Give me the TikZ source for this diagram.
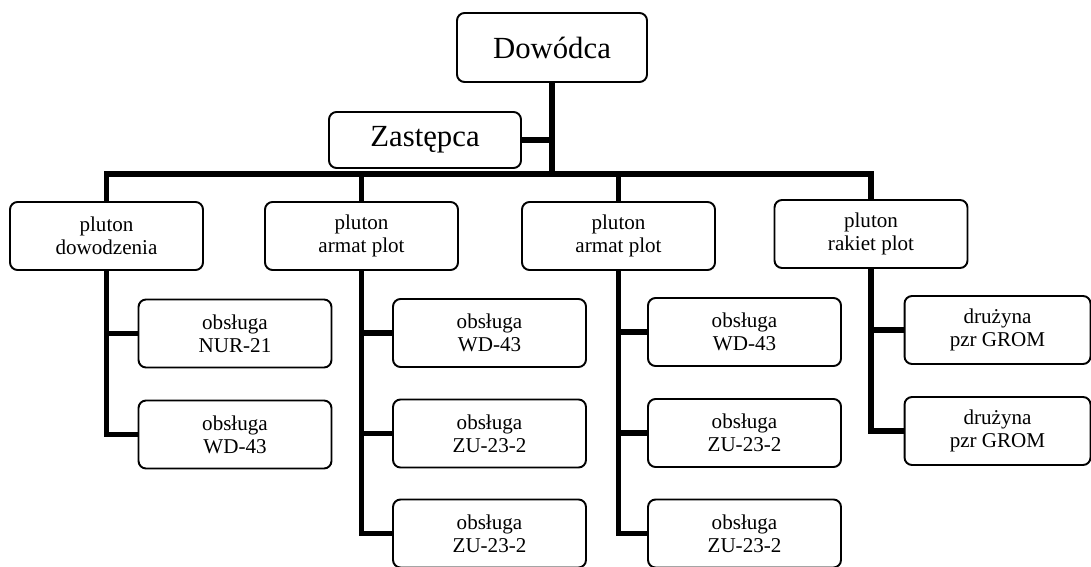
\documentclass[tikz,border=0pt]{standalone}
\usepackage{fontspec}
\setmainfont{Liberation Serif}
\usetikzlibrary{positioning, calc}

\begin{document}
\begin{tikzpicture}[x=0.02cm, y=-0.02cm,
    box/.style={draw, line width=1.1pt, rounded corners=0.15cm, align=center,
      minimum width=3.86cm, minimum height=1.36cm, inner sep=0pt,
      font=\fontsize{12}{13.2}\selectfont},
    bigbox/.style={box, font=\fontsize{17.5}{20}\selectfont},
    conn/.style={line width=3.4pt}]
    \useasboundingbox (0,0) rectangle (1091,567);

    % dowodca i zastepca
    \node[bigbox, minimum width=3.8cm, minimum height=1.38cm] (dow) at (552,47.5) {Dowódca};
    \node[bigbox, minimum width=3.84cm, minimum height=1.12cm] (zas) at (425,140) {Zastępca};
    \coordinate (bar) at (552,174);

    % plutony
    \node[box] (pd) at (106.5,236) {pluton\\dowodzenia};
    \node[box] (pa1) at (361.5,236) {pluton\\armat plot};
    \node[box] (pa2) at (618.5,236) {pluton\\armat plot};
    \node[box] (pr) at (871,234) {pluton\\rakiet plot};

    % obslugi
    \node[box] (d1) at (235,333.5) {obsługa\\NUR-21};
    \node[box] (d2) at (235,434.5) {obsługa\\WD-43};

    \node[box] (a11) at (489.5,333) {obsługa\\WD-43};
    \node[box] (a12) at (489.5,433.5) {obsługa\\ZU-23-2};
    \node[box] (a13) at (489.5,533.5) {obsługa\\ZU-23-2};

    \node[box] (a21) at (744.5,332) {obsługa\\WD-43};
    \node[box] (a22) at (744.5,433) {obsługa\\ZU-23-2};
    \node[box] (a23) at (744.5,533.5) {obsługa\\ZU-23-2};

    \node[box, minimum width=3.72cm] (r1) at (997.5,330) {drużyna\\pzr GROM};
    \node[box, minimum width=3.72cm] (r2) at (997.5,431) {drużyna\\pzr GROM};

    % polaczenia
    \draw[conn] (dow.south) -- (bar);
    \draw[conn] (zas.east) -- (zas.east -| dow.south);
    \draw[conn] (pd.north) |- (bar) -| (pr.north);
    \draw[conn] (pa1.north) -- (pa1.north |- bar);
    \draw[conn] (pa2.north) -- (pa2.north |- bar);

    \draw[conn] (pd.south) |- (d1.west);
    \draw[conn] (pd.south) |- (d2.west);
    \draw[conn] (pa1.south) |- (a11.west);
    \draw[conn] (pa1.south) |- (a12.west);
    \draw[conn] (pa1.south) |- (a13.west);
    \draw[conn] (pa2.south) |- (a21.west);
    \draw[conn] (pa2.south) |- (a22.west);
    \draw[conn] (pa2.south) |- (a23.west);
    \draw[conn] (pr.south) |- (r1.west);
    \draw[conn] (pr.south) |- (r2.west);
  \end{tikzpicture}
\end{document}
